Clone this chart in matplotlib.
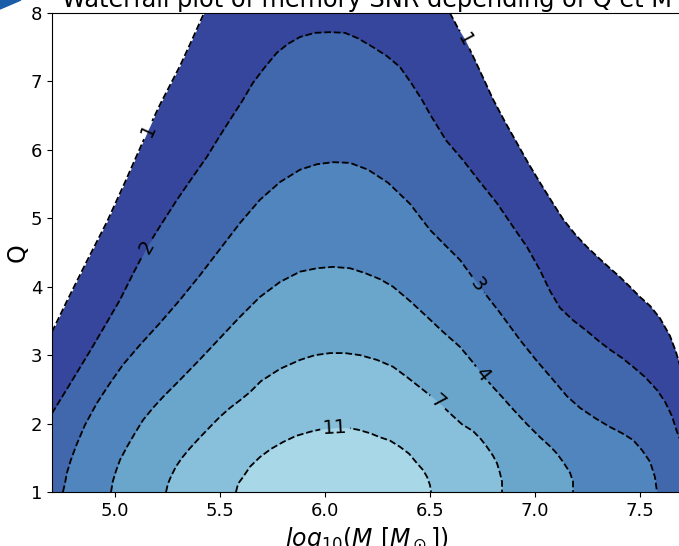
import numpy as np
import matplotlib
matplotlib.use("Agg")
import matplotlib.pyplot as plt
from matplotlib.patches import Polygon
from matplotlib.path import Path
from matplotlib.transforms import IdentityTransform

# niveaux des contours du SNR de la memoire
niveaux = ['1', '2', '3', '4', '7', '11']
couleurs = ['#35469c', '#4168ad', '#5086bd', '#6aa5cc', '#88bfdb', '#a8d7e8']

# contour SNR = 1 (branche gauche et droite, sort par le haut du graphe)
m1_g = [4.70, 4.771, 4.867, 4.962, 5.048, 5.133, 5.157, 5.214, 5.31, 5.367, 5.424]
q1_g = [3.34, 3.79, 4.38, 4.95, 5.53, 6.12, 6.29, 6.66, 7.23, 7.61, 8.00]
m1_d = [6.595, 6.633, 6.667, 6.714, 6.752, 6.80, 6.857, 6.914, 6.967, 7.024, 7.081, 7.133,
        7.19, 7.248, 7.30, 7.357, 7.405, 7.452, 7.50, 7.548, 7.595, 7.643, 7.671, 7.70]
q1_d = [8.00, 7.78, 7.61, 7.31, 7.06, 6.74, 6.41, 6.10, 5.81, 5.52, 5.24, 4.99,
        4.77, 4.58, 4.43, 4.27, 4.14, 4.00, 3.85, 3.72, 3.54, 3.28, 3.05, 2.75]

# contour SNR = 2
m2 = [4.70, 4.786, 4.881, 4.952, 5.024, 5.086, 5.152, 5.224, 5.295, 5.367, 5.438, 5.49,
      5.548, 5.605, 5.657, 5.714, 5.771, 5.824, 5.881, 5.952, 6.024, 6.095, 6.157, 6.229,
      6.295, 6.357, 6.414, 6.462, 6.50, 6.576, 6.657, 6.738, 6.819, 6.89, 6.962, 7.024,
      7.071, 7.119, 7.181, 7.248, 7.31, 7.357, 7.414, 7.467, 7.524, 7.581, 7.619, 7.652,
      7.676, 7.70]
q2 = [2.15, 2.58, 3.06, 3.43, 3.81, 4.19, 4.58, 4.93, 5.27, 5.59, 5.90, 6.16,
      6.44, 6.71, 6.98, 7.21, 7.42, 7.55, 7.65, 7.71, 7.72, 7.71, 7.63, 7.50,
      7.37, 7.21, 6.96, 6.73, 6.52, 6.14, 5.85, 5.53, 5.22, 4.90, 4.58, 4.24,
      3.94, 3.69, 3.51, 3.35, 3.19, 3.08, 2.96, 2.83, 2.68, 2.49, 2.32, 2.11,
      1.88, 1.70]

# contour SNR = 3
m3 = [4.752, 4.762, 4.771, 4.79, 4.814, 4.857, 4.914, 4.976, 5.038, 5.119, 5.214, 5.31,
      5.405, 5.50, 5.595, 5.69, 5.786, 5.881, 5.962, 6.038, 6.119, 6.205, 6.30, 6.405,
      6.50, 6.571, 6.643, 6.729, 6.833, 6.929, 7.01, 7.086, 7.152, 7.214, 7.286, 7.357,
      7.414, 7.467, 7.51, 7.548, 7.571, 7.581]
q3 = [1.00, 1.13, 1.28, 1.47, 1.67, 1.98, 2.30, 2.59, 2.86, 3.15, 3.47, 3.81,
      4.17, 4.55, 4.93, 5.27, 5.53, 5.71, 5.79, 5.82, 5.81, 5.71, 5.52, 5.21,
      4.83, 4.61, 4.39, 4.03, 3.62, 3.22, 2.91, 2.64, 2.40, 2.23, 2.08, 1.95,
      1.86, 1.76, 1.61, 1.44, 1.22, 1.00]

# contour SNR = 4
m4 = [4.981, 4.99, 5.005, 5.024, 5.057, 5.095, 5.133, 5.181, 5.229, 5.31, 5.405, 5.50,
      5.595, 5.69, 5.786, 5.881, 5.962, 6.038, 6.119, 6.19, 6.262, 6.324, 6.405, 6.486,
      6.562, 6.643, 6.70, 6.748, 6.795, 6.843, 6.895, 6.962, 7.024, 7.071, 7.105, 7.138,
      7.167, 7.181, 7.181]
q4 = [1.00, 1.16, 1.31, 1.47, 1.66, 1.86, 2.05, 2.23, 2.39, 2.64, 2.94, 3.25,
      3.56, 3.85, 4.07, 4.22, 4.27, 4.29, 4.27, 4.20, 4.11, 4.00, 3.79, 3.56,
      3.34, 3.12, 2.91, 2.72, 2.55, 2.39, 2.21, 1.99, 1.80, 1.67, 1.56, 1.42,
      1.28, 1.15, 1.00]

# contour SNR = 7
m7 = [5.243, 5.252, 5.267, 5.29, 5.319, 5.357, 5.405, 5.452, 5.50, 5.548, 5.595, 5.643,
      5.695, 5.786, 5.881, 5.952, 6.024, 6.095, 6.167, 6.248, 6.324, 6.39, 6.452, 6.538,
      6.595, 6.652, 6.705, 6.743, 6.771, 6.80, 6.819, 6.833, 6.843, 6.843]
q7 = [1.00, 1.12, 1.23, 1.37, 1.50, 1.64, 1.80, 1.95, 2.10, 2.23, 2.34, 2.46,
      2.62, 2.80, 2.93, 3.00, 3.03, 3.03, 3.00, 2.93, 2.83, 2.68, 2.53, 2.32,
      2.15, 1.99, 1.89, 1.77, 1.66, 1.53, 1.42, 1.28, 1.15, 1.00]

# contour SNR = 11
m11 = [5.576, 5.586, 5.61, 5.643, 5.69, 5.743, 5.80, 5.862, 5.929, 5.986, 6.048, 6.105,
       6.157, 6.214, 6.262, 6.31, 6.357, 6.40, 6.438, 6.467, 6.486, 6.50, 6.505]
q11 = [1.00, 1.12, 1.22, 1.37, 1.51, 1.63, 1.73, 1.82, 1.88, 1.92, 1.94, 1.94,
       1.91, 1.86, 1.80, 1.75, 1.66, 1.56, 1.42, 1.32, 1.22, 1.10, 1.00]

# indice du point de chaque courbe qui porte l'etiquette
idx_labels = {'1g': 6, '1d': 2, '2': 6, '3': 27, '4': 27, '7': 23, '11': 10}

xmin, xmax = 4.7, 7.7
ymin, ymax = 1, 8

fig = plt.figure(figsize=(6.79, 5.46), dpi=100)
ax = fig.add_axes([52/679, 54/546, 630/679, 479/546])
ax.set_xlim(xmin, xmax)
ax.set_ylim(ymin, ymax)

m1 = m1_g + m1_d
q1 = q1_g + q1_d
bandes = [(m1, q1), (m2, q2), (m3, q3), (m4, q4), (m7, q7), (m11, q11)]
for (m, q), c in zip(bandes, couleurs):
    ax.fill_between(m, ymin, q, color=c, lw=0, zorder=1)

lignes = {'1g': (m1_g, q1_g), '1d': (m1_d, q1_d), '2': (m2, q2), '3': (m3, q3),
          '4': (m4, q4), '7': (m7, q7), '11': (m11, q11)}

W, H = fig.bbox.width, fig.bbox.height
sx = ax.bbox.width / (xmax - xmin)
sy = ax.bbox.height / (ymax - ymin)
t = np.linspace(0, -2 * np.pi, 41)

for cle, (m, q) in lignes.items():
    ln, = ax.plot(m, q, color='k', ls='--', lw=1.3, zorder=2)
    i = idx_labels[cle]
    txt = cle.rstrip('gd')
    # trou dans la ligne sous l'etiquette (comme clabel inline)
    cx, cy = ax.transData.transform((m[i], q[i]))
    r = 5 + 5 * len(txt)
    rect = [(0, 0), (W, 0), (W, H), (0, H), (0, 0)]
    trou = list(zip(cx + r * np.cos(t), cy + r * np.sin(t)))
    verts = rect + trou
    codes = ([Path.MOVETO] + [Path.LINETO] * 3 + [Path.CLOSEPOLY]
             + [Path.MOVETO] + [Path.LINETO] * (len(trou) - 2) + [Path.CLOSEPOLY])
    ln.set_clip_path(Path(verts, codes), IdentityTransform())

    dx = (m[i + 1] - m[i - 1]) * sx
    dy = (q[i + 1] - q[i - 1]) * sy
    ang = np.degrees(np.arctan2(dy, dx))
    if ang > 90:
        ang -= 180
    if ang < -90:
        ang += 180
    ax.text(m[i], q[i], txt, fontsize=14, rotation=ang, rotation_mode='anchor',
            ha='center', va='center', zorder=4)

ax.set_xticks([5.0, 5.5, 6.0, 6.5, 7.0, 7.5])
ax.set_yticks(range(1, 9))
ax.tick_params(labelsize=13)
ax.set_title('Waterfall plot of memory SNR depending of Q et M', fontsize=17.3, pad=4)
ax.set_xlabel(r'$log_{10}(M\ [M_\odot])$', fontsize=17)
ax.set_ylabel('Q', fontsize=17, labelpad=1)

# petit morceau bleu dans le coin
fig.add_artist(Polygon([[0, 1], [21/679, 1], [0, 1 - 9/546]], closed=True,
                       transform=fig.transFigure, color='#1b5ca8'))

fig.savefig('out.png', dpi=100)
